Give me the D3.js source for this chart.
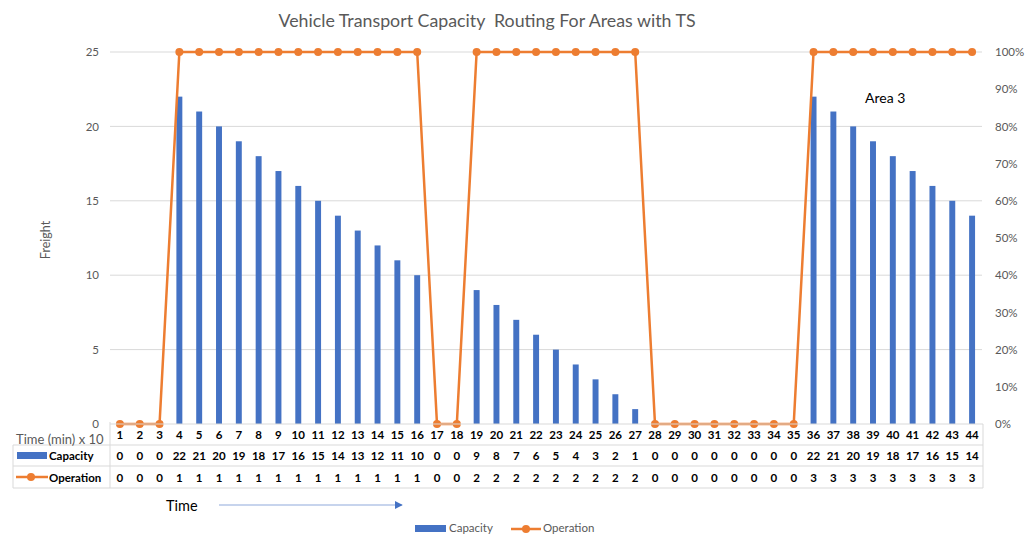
<!DOCTYPE html>
<meta charset="utf-8">
<head>
  <title>Vehicle Transport Capacity</title>
</head>

<style>
body { margin: 0; background: #fff; }
text { font-family: Lato, "Open Sans", sans-serif; }
.grid line { stroke: #d9d9d9; }
.tbl line { stroke: #d9d9d9; }
</style>

<body>
  <svg width="1035" height="536"></svg>

  <script src="https://cdn.jsdelivr.net/npm/d3@7"></script>
  <script>
var times = d3.range(1, 45);
var capacity = [0, 0, 0, 22, 21, 20, 19, 18, 17, 16, 15, 14, 13, 12, 11, 10, 0, 0,
  9, 8, 7, 6, 5, 4, 3, 2, 1, 0, 0, 0, 0, 0, 0, 0, 0,
  22, 21, 20, 19, 18, 17, 16, 15, 14];
var operation = [0, 0, 0, 1, 1, 1, 1, 1, 1, 1, 1, 1, 1, 1, 1, 1, 0, 0,
  2, 2, 2, 2, 2, 2, 2, 2, 2, 0, 0, 0, 0, 0, 0, 0, 0,
  3, 3, 3, 3, 3, 3, 3, 3, 3];
var leftTicks = [0, 5, 10, 15, 20, 25];
var rightTicks = d3.range(0, 1.01, 0.1);

var svg = d3.select('svg');
var blue = '#4472c4', orange = '#ed7d31', grey = '#595959';

var x = d3.scaleBand().domain(times).range([110, 982]).paddingInner(0.7).paddingOuter(0.35);
var cx = function(t) { return x(t) + x.bandwidth() / 2; };
var y = d3.scaleLinear().domain([0, 25]).range([424, 52]);
var y2 = d3.scaleLinear().domain([0, 1]).range([424, 52]).clamp(true);

// title
svg.append('text').attr('x', 487).attr('y', 27).attr('text-anchor', 'middle')
  .attr('font-size', 17.8).attr('fill', grey).attr('xml:space', 'preserve')
  .text('Vehicle Transport Capacity  Routing For Areas with TS');

// grid
svg.append('g').attr('class', 'grid').selectAll('line')
  .data(leftTicks.slice(1)).enter().append('line')
  .attr('x1', 110).attr('x2', 982)
  .attr('y1', function(d) { return y(d); }).attr('y2', function(d) { return y(d); });

// left axis
var la = svg.append('g').attr('transform', 'translate(99,0)')
  .call(d3.axisLeft(y).tickValues(leftTicks).tickSize(0).tickPadding(0));
la.select('.domain').remove();
la.selectAll('text').attr('font-size', 11.5).attr('fill', grey).style('font-family', 'Lato, sans-serif');

// right axis
var ra = svg.append('g').attr('transform', 'translate(995,0)')
  .call(d3.axisRight(y2).tickValues(rightTicks).tickFormat(d3.format('.0%')).tickSize(0).tickPadding(0));
ra.select('.domain').remove();
ra.selectAll('text').attr('font-size', 11.5).attr('fill', grey).style('font-family', 'Lato, sans-serif');

svg.append('text').attr('transform', 'translate(50,240) rotate(-90)')
  .attr('text-anchor', 'middle').attr('font-size', 12.5).attr('fill', grey).text('Freight');

// bars
svg.append('g').selectAll('rect').data(times).enter().append('rect')
  .attr('x', function(t) { return x(t); })
  .attr('width', x.bandwidth())
  .attr('y', function(t, i) { return y(capacity[i]); })
  .attr('height', function(t, i) { return y(0) - y(capacity[i]); })
  .attr('fill', blue);

// line
var line = d3.line().x(function(t) { return cx(t); })
  .y(function(t, i) { return y2(operation[i]); });
svg.append('path').datum(times).attr('d', line)
  .attr('fill', 'none').attr('stroke', orange).attr('stroke-width', 2.5);
svg.append('g').selectAll('circle').data(times).enter().append('circle')
  .attr('cx', function(t) { return cx(t); })
  .attr('cy', function(t, i) { return y2(operation[i]); })
  .attr('r', 4).attr('fill', orange);

svg.append('text').attr('x', 865).attr('y', 103).attr('font-size', 14).attr('fill', '#000').text('Area 3');

// data table
var tbl = svg.append('g').attr('class', 'tbl');
var rows = [424, 445, 466, 488];
tbl.append('line').attr('x1', 110).attr('x2', 983).attr('y1', rows[0]).attr('y2', rows[0]);
rows.slice(1).forEach(function(r) {
  tbl.append('line').attr('x1', 13).attr('x2', 983).attr('y1', r).attr('y2', r);
});
tbl.append('line').attr('x1', 110).attr('x2', 110).attr('y1', 422).attr('y2', 488);
tbl.append('line').attr('x1', 983).attr('x2', 983).attr('y1', 424).attr('y2', 488);
tbl.append('line').attr('x1', 13).attr('x2', 13).attr('y1', 445).attr('y2', 488);

svg.append('text').attr('x', 16).attr('y', 444).attr('font-size', 13).attr('fill', grey).text('Time (min) x 10');

var rowData = [[times, 439], [capacity, 460], [operation, 482]];
rowData.forEach(function(rd) {
  svg.append('g').selectAll('text').data(rd[0]).enter().append('text')
    .attr('x', function(v, i) { return cx(times[i]); })
    .attr('y', rd[1]).attr('text-anchor', 'middle')
    .attr('font-size', 11.5).attr('font-weight', 'bold').attr('fill', '#000')
    .text(function(v) { return v; });
});

// table keys
svg.append('rect').attr('x', 17).attr('y', 452).attr('width', 30).attr('height', 7).attr('fill', blue);
svg.append('text').attr('x', 49).attr('y', 460).attr('font-size', 11.5).attr('font-weight', 'bold').text('Capacity');
svg.append('line').attr('x1', 16).attr('x2', 48).attr('y1', 477).attr('y2', 477)
  .attr('stroke', orange).attr('stroke-width', 2.5);
svg.append('circle').attr('cx', 31).attr('cy', 477).attr('r', 4).attr('fill', orange);
svg.append('text').attr('x', 49).attr('y', 482).attr('font-size', 11.5).attr('font-weight', 'bold').text('Operation');

// time arrow
svg.append('text').attr('x', 166).attr('y', 511).attr('font-size', 14.5).attr('fill', '#000').text('Time');
svg.append('defs').append('marker').attr('id', 'arr').attr('viewBox', '0 0 10 10')
  .attr('refX', 9).attr('refY', 5).attr('markerWidth', 8).attr('markerHeight', 8)
  .attr('markerUnits', 'userSpaceOnUse').attr('orient', 'auto')
  .append('path').attr('d', 'M0,0L10,5L0,10Z').attr('fill', blue);
svg.append('line').attr('x1', 219).attr('x2', 402).attr('y1', 505).attr('y2', 505)
  .attr('stroke', '#8faadc').attr('stroke-width', 1.2).attr('marker-end', 'url(#arr)');

// legend
svg.append('rect').attr('x', 415).attr('y', 525).attr('width', 31).attr('height', 7).attr('fill', blue);
svg.append('text').attr('x', 449).attr('y', 532).attr('font-size', 11.5).attr('fill', grey).text('Capacity');
svg.append('line').attr('x1', 511).attr('x2', 541).attr('y1', 529).attr('y2', 529)
  .attr('stroke', orange).attr('stroke-width', 2.5);
svg.append('circle').attr('cx', 526).attr('cy', 529).attr('r', 4).attr('fill', orange);
svg.append('text').attr('x', 543).attr('y', 532).attr('font-size', 11.5).attr('fill', grey).text('Operation');
  </script>
</body>
</html>
